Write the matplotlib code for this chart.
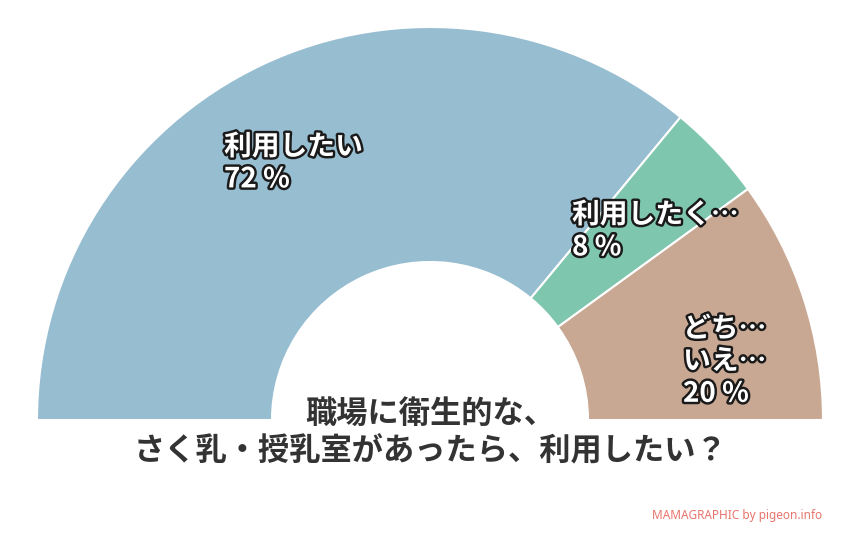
import matplotlib
matplotlib.use("Agg")
import matplotlib.pyplot as plt
import matplotlib.patheffects as pe

plt.rcParams['font.family'] = ['Noto Sans CJK JP', 'DejaVu Sans']

categories = ["利用したい", "利用したく…", "どち…\nいえ…"]
values = [72, 8, 20]
colors = ["#97BDD1", "#7EC7AE", "#C9A893"]
title = "職場に衛生的な、\nさく乳・授乳室があったら、利用したい？"
credit = "MAMAGRAPHIC by pigeon.info"

W, H = 860, 540
fig = plt.figure(figsize=(W / 100, H / 100), dpi=100)
ax = fig.add_axes([0, 0, 1, 1])
ax.set_xlim(0, W)
ax.set_ylim(0, H)
ax.set_aspect('equal')
ax.axis('off')

cx, cy = 430, H - 420
r_out, r_in = 393, 158
total = sum(values)
wedges, _ = ax.pie(values + [total], colors=colors + ["none"], startangle=180,
                   counterclock=False, center=(cx, cy), radius=r_out,
                   wedgeprops=dict(width=r_out - r_in, edgecolor="white", linewidth=1.5))
wedges[-1].set_visible(False)
ax.set_xlim(0, W)
ax.set_ylim(0, H)

stroke = [pe.withStroke(linewidth=3.5, foreground="#1a1a1a")]
label_pos = [(224, 133), (572, 201), (683, 315)]
for cat, v, (x, y) in zip(categories, values, label_pos):
    ax.text(x, H - y, f"{cat}\n{v} %", ha="left", va="top", fontsize=20,
            fontweight="bold", color="white", linespacing=1.2, path_effects=stroke)

ax.text(430, H - 433, title, ha="center", va="center", fontsize=22.5,
        fontweight="bold", color="#333333", linespacing=1.2)

ax.text(822, H - 515, credit, ha="right", va="center", fontsize=8.5,
        color="#E8746C", family=["Noto Sans", "DejaVu Sans"])

fig.savefig("out.png", dpi=100)
